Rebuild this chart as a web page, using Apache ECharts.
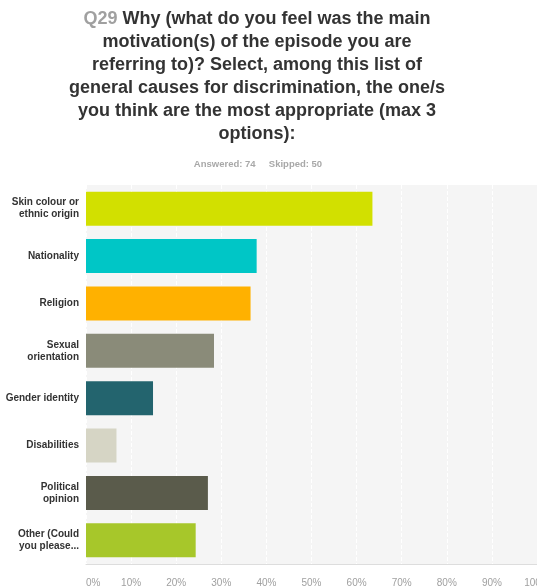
<!DOCTYPE html>
<html>
<head>
<meta charset="utf-8">
<script src="https://cdn.jsdelivr.net/npm/echarts@6/dist/echarts.min.js"></script>
<style>
  html, body { margin: 0; padding: 0; background: #ffffff; overflow: hidden; }
  #chart { width: 537px; height: 588px; }
</style>
</head>
<body>
<div id="chart"></div>
<script>
// Answer options, top to bottom
const categories = [
  'Skin colour or\nethnic origin',
  'Nationality',
  'Religion',
  'Sexual\norientation',
  'Gender identity',
  'Disabilities',
  'Political\nopinion',
  'Other (Could\nyou please...'
];
// Share of respondents (%) choosing each option (74 answered)
const percentages = [63.51, 37.84, 36.49, 28.38, 14.86, 6.76, 27.03, 24.32];
const barColors = ['#d2e000', '#00c6c6', '#ffb100', '#8a8b79', '#23646e', '#d6d5c5', '#5a5b4b', '#a7c72a'];
const xTicks = [0, 10, 20, 30, 40, 50, 60, 70, 80, 90, 100];

const chart = echarts.init(document.getElementById('chart'), null, { renderer: 'canvas' });

const FONT = '"Liberation Sans", Arial, sans-serif';

chart.setOption({
  animation: false,
  backgroundColor: '#ffffff',
  title: [
    {
      text: '{q|Q29} Why (what do you feel was the main\nmotivation(s) of the episode you are\nreferring to)? Select, among this list of\ngeneral causes for discrimination, the one/s\nyou think are the most appropriate (max 3\noptions):',
      left: 252,
      top: 3,
      textAlign: 'center',
      textStyle: {
        fontFamily: FONT,
        fontSize: 18,
        fontWeight: 'bold',
        color: '#333333',
        lineHeight: 23,
        align: 'center',
        rich: {
          q: { color: '#a0a0a0', fontSize: 18, fontWeight: 'bold', fontFamily: FONT }
        }
      }
    },
    {
      text: 'Answered: 74     Skipped: 50',
      left: 253,
      top: 154,
      textAlign: 'center',
      textStyle: {
        fontFamily: FONT,
        fontSize: 9.5,
        fontWeight: 'bold',
        color: '#a8a8a8'
      }
    }
  ],
  grid: {
    left: 86,
    width: 451,
    top: 185,
    bottom: 24,
    outerBoundsMode: 'none',
    containLabel: false,
    show: true,
    backgroundColor: '#f5f5f5',
    borderWidth: 0
  },
  xAxis: {
    type: 'value',
    min: 0,
    max: 100,
    interval: 10,
    axisLine: { show: true, lineStyle: { color: '#dddddd', width: 1 } },
    axisTick: { show: false },
    splitLine: { show: true, lineStyle: { color: '#ffffff', type: 'dashed', width: 1 } },
    axisLabel: {
      formatter: function (v) { return xTicks.indexOf(v) >= 0 ? v + '%' : ''; },
      fontFamily: FONT,
      fontSize: 10,
      color: '#a0a0a0',
      margin: 14,
      alignMinLabel: 'left'
    }
  },
  yAxis: {
    type: 'category',
    inverse: true,
    data: categories,
    axisLine: { show: false },
    axisTick: { show: false },
    axisLabel: {
      fontFamily: FONT,
      fontSize: 10,
      fontWeight: 'bold',
      color: '#333333',
      lineHeight: 12,
      align: 'right',
      margin: 7
    }
  },
  series: [{
    type: 'bar',
    data: percentages.map(function (v, i) {
      return { value: v, itemStyle: { color: barColors[i] } };
    }),
    barWidth: 34,
    itemStyle: { borderWidth: 0 }
  }]
});
</script>
</body>
</html>
